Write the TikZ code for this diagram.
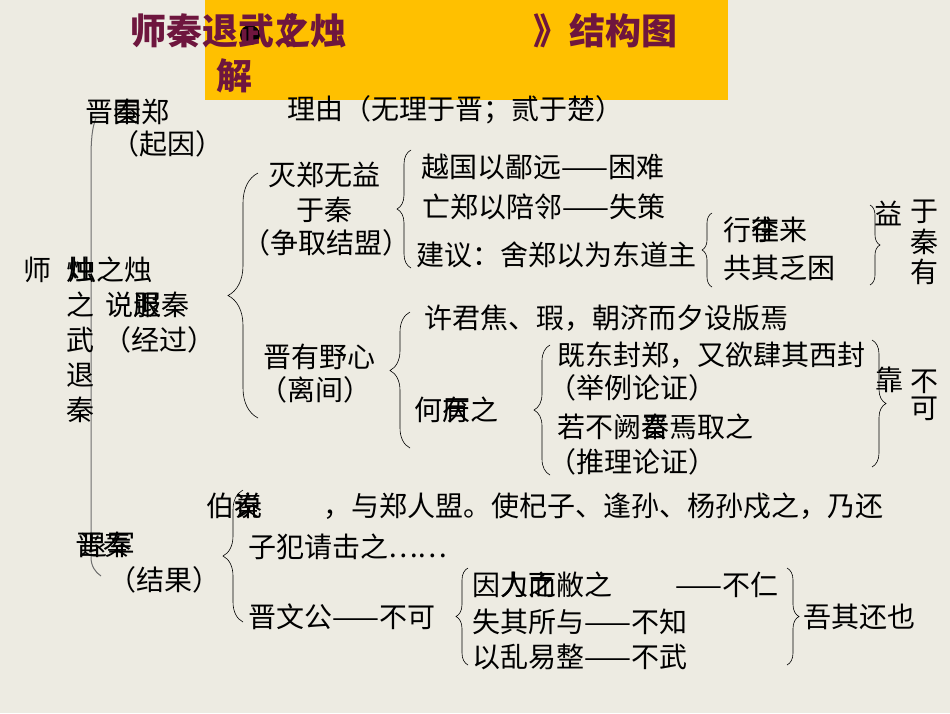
\documentclass[tikz,border=0pt]{standalone}
\usepackage{fontspec}
\newfontfamily\cjk{Noto Sans CJK SC}
\usepackage{tikz}
\usetikzlibrary{calc}
\usetikzlibrary{positioning}
\usetikzlibrary{decorations.pathreplacing}

\definecolor{slidebg}{RGB}{237,235,226}
\definecolor{titlebox}{RGB}{255,192,0}
\definecolor{titlered}{RGB}{110,22,62}
\definecolor{stemgray}{RGB}{110,110,110}

\tikzset{
  txt/.style={anchor=west, inner sep=0pt, font=\cjk\fontsize{28}{30}\selectfont},
  ttl/.style={anchor=west, inner sep=0pt, text=titlered, font=\cjk\fontsize{36}{38}\selectfont\bfseries},
  brc/.style={decorate, decoration={brace, amplitude=#1}, line width=0.6pt},
}

\begin{document}
\begin{tikzpicture}[x=1pt, y=-1pt]
\fill[slidebg] (0,0) rectangle (950,713);
\useasboundingbox (0,0) rectangle (950,713);

% title
\fill[titlebox] (205,0) rectangle (728,100);
\fill[black] (250,35) circle (10pt);
\node[ttl] (T1) at (130,31) {师秦退武之};
\node[ttl] (T2) at (262,31) {《};
\node[ttl] (T3) at (310,31) {烛};
\node[ttl] (T4) at (533,31) {》结构图};
\node[ttl] (T5) at (216,76) {解};

% main stem
\coordinate (stemtop) at (96,118);
\coordinate (stemA) at (91,160);
\coordinate (stemB) at (91,557);
\coordinate (stembot) at (101,576);
\draw[stemgray, line width=1pt] (stemtop) .. controls (92,128) and (91,140) .. (stemA) -- (stemB) .. controls (91,566) and (95,572) .. (stembot);

% left column
\node[txt] (shi) at (23,270) {师};
\foreach \ch [count=\i] in {烛,之,武,退,秦}
\node[txt] (col\i) at (66,{270+35*(\i-1)}) {\ch};

% cause
\node[txt] (cause) at (85,112) {晋围郑};
\node[txt] (causeb) at (113,112) {秦};
\node[txt] (causelbl) at (111,144) {（起因）};
\node[txt] (reason) at (287,110) {理由（无理于晋；贰于楚）};

% process
\node[txt] (rowzhu) at (68,270) {烛之烛};
\node[txt] (shuo) at (105,305) {说服秦};
\node[txt] (shuob) at (133,305) {退};
\node[txt] (jingguo) at (103,340) {（经过）};

\node[txt] (mie) at (268,175) {灭郑无益};
\node[txt] (yuqin) at (296,210) {于秦};
\node[txt] (zhengqu) at (242,243) {（争取结盟）};
\node[txt] (jin) at (263,357) {晋有野心};
\node[txt] (lijian) at (259,390) {（离间）};

\node[txt] (yue) at (421,167) {越国以鄙远——困难};
\node[txt] (wang) at (422,207) {亡郑以陪邻——失策};
\node[txt] (jianyi) at (416,255) {建议：舍郑以为东道主};
\node[txt] (xingli) at (723,230) {行李来};
\node[txt] (xinglib) at (751,230) {往};
\node[txt] (gong) at (723,268) {共其乏困};
\node[txt] (yi) at (874,213) {益};
\foreach \ch [count=\i] in {于,秦,有}
\node[txt] (you\i) at (910,{212+30*(\i-1)}) {\ch};

\node[txt] (xu) at (424,318) {许君焦、瑕，朝济而夕设版焉};
\node[txt] (heyan) at (414,410) {何厌之};
\node[txt] (heyanb) at (442,410) {有};
\node[txt] (jidong) at (557,355) {既东封郑，又欲肆其西封};
\node[txt] (juli) at (548,388) {（举例论证）};
\node[txt] (ruo) at (557,427) {若不阙秦焉取之};
\node[txt] (ruob) at (641,427) {晋};
\node[txt] (tuili) at (548,462) {（推理论证）};
\node[txt] (kao) at (875,380) {靠};
\node[txt] (bu) at (910,382) {不};
\node[txt] (ke) at (910,409) {可};

% result
\node[txt] (bo) at (206,506) {伯秦};
\node[txt] (bob) at (234,506) {说};
\node[txt] (yuzheng) at (323,506) {，与郑人盟。使杞子、逢孙、杨孙戍之，乃还};
\node[txt] (zifan) at (248,547) {子犯请击之……};
\node[txt] (jieguo1) at (75,545) {晋秦};
\node[txt] (jieguo1b) at (79,545) {退军};
\node[txt] (jieguo) at (108,580) {（结果）};
\node[txt] (wengong) at (248,617) {晋文公——不可};
\node[txt] (yin) at (472,585) {因力而敝之};
\node[txt] (yinb) at (500,585) {人之};
\node[txt] (buren) at (675,585) {——不仁};
\node[txt] (shiqi) at (472,622) {失其所与——不知};
\node[txt] (luan) at (472,657) {以乱易整——不武};
\node[txt] (wuqi) at (803,617) {吾其还也};

% braces
\coordinate (b1t) at (258,173);  \coordinate (b1b) at (258,418);
\coordinate (b2t) at (411,150);  \coordinate (b2b) at (411,268);
\coordinate (b3t) at (712,213);  \coordinate (b3b) at (712,287);
\coordinate (r1t) at (870,205);  \coordinate (r1b) at (870,285);
\coordinate (b4t) at (410,312);  \coordinate (b4b) at (410,448);
\coordinate (b5t) at (550,345);  \coordinate (b5b) at (550,475);
\coordinate (r2t) at (872,340);  \coordinate (r2b) at (872,467);
\coordinate (b6t) at (243,490);  \coordinate (b6b) at (243,622);
\coordinate (b7t) at (468,568);  \coordinate (b7b) at (468,665);
\coordinate (r3t) at (787,568);  \coordinate (r3b) at (787,665);

\draw[brc=30] (b1b) -- (b1t);
\draw[brc=14] (b2b) -- (b2t);
\draw[brc=10] (b3b) -- (b3t);
\draw[brc=10] (r1t) -- (r1b);
\draw[brc=20, decoration={aspect=0.57}] (b4b) -- (b4t);
\draw[brc=16] (b5b) -- (b5t);
\draw[brc=14] (r2t) -- (r2b);
\draw[brc=20] (b6b) -- (b6t);
\draw[brc=12] (b7b) -- (b7t);
\draw[brc=12] (r3t) -- (r3b);
\end{tikzpicture}
\end{document}
